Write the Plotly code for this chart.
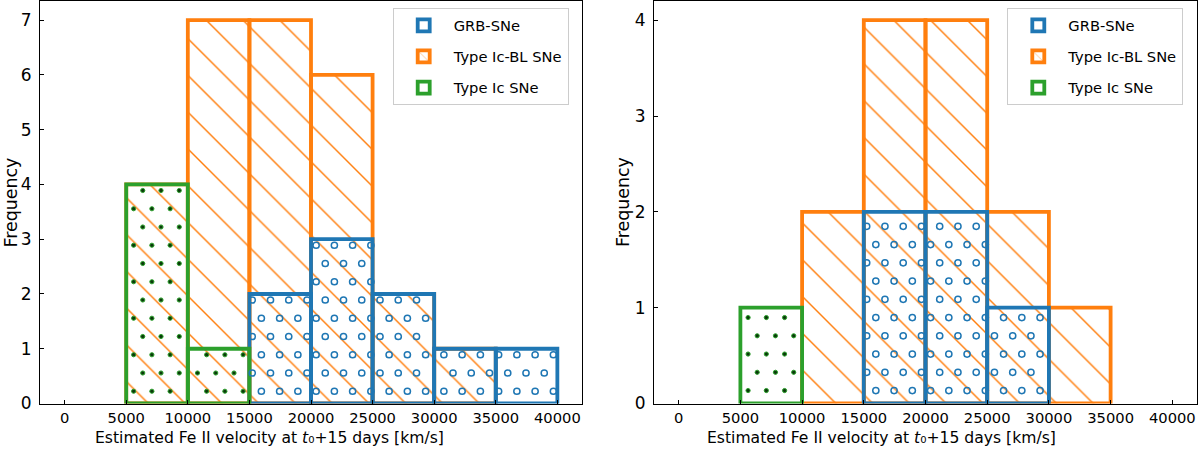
import numpy as np
import plotly.graph_objects as go

# ---------------- data ----------------
bin_edges = [5000, 10000, 15000, 20000, 25000, 30000, 35000, 40000]
series_names = ["GRB-SNe", "Type Ic-BL SNe", "Type Ic SNe"]

left_grb = [0, 0, 2, 3, 2, 1, 1]
left_icbl = [4, 7, 7, 6, 2, 1, 0]
left_ic = [4, 1, 0, 0, 0, 0, 0]

right_grb = [0, 0, 2, 2, 1, 0, 0]
right_icbl = [0, 2, 4, 4, 2, 1, 0]
right_ic = [1, 0, 0, 0, 0, 0, 0]

x_ticks = [0, 5000, 10000, 15000, 20000, 25000, 30000, 35000, 40000]
left_y_ticks = [0, 1, 2, 3, 4, 5, 6, 7]
right_y_ticks = [0, 1, 2, 3, 4]

x_title = "Estimated Fe II velocity at <i>t</i>\u2080+15 days [km/s]"
y_title = "Frequency"

# ---------------- style ----------------
W, H = 1200, 452
BLUE, ORANGE, GREEN = "#1f77b4", "#ff7f0e", "#2ca02c"
FONT = "DejaVu Sans"
FS = 14.7
FS_Y = 17.0
X0, X1 = -2000, 42000
YTOP, YBOT = 1.0, 403.5
P = 18.25  # hatch lattice period in px
LW = 3.8

panels = [
    dict(grb=left_grb, icbl=left_icbl, ic=left_ic, yticks=left_y_ticks,
         xpx=(40.0, 582.0), ymax=7.35, anchor=(380.0, 300.0),
         xa="x", ya="y", legend="legend", xtitle_px=269.0, ytitle_px=11.0),
    dict(grb=right_grb, icbl=right_icbl, ic=right_ic, yticks=right_y_ticks,
         xpx=(654.0, 1197.0), ymax=4.2, anchor=(866.7, 299.3),
         xa="x2", ya="y2", legend="legend2", xtitle_px=881.0, ytitle_px=623.5),
]


def to_px_x(x, xpx):
    return xpx[0] + (x - X0) / (X1 - X0) * (xpx[1] - xpx[0])


def from_px_x(px, xpx):
    return X0 + (px - xpx[0]) / (xpx[1] - xpx[0]) * (X1 - X0)


def to_px_y(y, ymax):
    return YBOT - y / ymax * (YBOT - YTOP)


def from_px_y(py, ymax):
    return (YBOT - py) / (YBOT - YTOP) * ymax


def lattice(counts, xpx, ymax, anchor, margin):
    xs, ys = [], []
    ax, ay = anchor
    for i, c in enumerate(counts):
        if c <= 0:
            continue
        l = to_px_x(bin_edges[i], xpx)
        r = to_px_x(bin_edges[i + 1], xpx)
        t = to_px_y(c, ymax)
        b = YBOT
        jmin = int(np.floor((t - ay) / P)) - 1
        jmax = int(np.ceil((b - ay) / P)) + 1
        for j in range(jmin, jmax + 1):
            py = ay + j * P
            if py < t + margin or py > b - margin:
                continue
            off = ax + (P / 2 if j % 2 else 0.0)
            kmin = int(np.floor((l - off) / P)) - 1
            kmax = int(np.ceil((r - off) / P)) + 1
            for k in range(kmin, kmax + 1):
                px = off + k * P
                if px < l + margin or px > r - margin:
                    continue
                xs.append(from_px_x(px, xpx))
                ys.append(from_px_y(py, ymax))
    return xs, ys


def bars(counts):
    xs, ys = [], []
    for i, c in enumerate(counts):
        if c > 0:
            xs.append((bin_edges[i] + bin_edges[i + 1]) / 2)
            ys.append(c)
    return xs, ys


fig = go.Figure()

for p in panels:
    # Ic-BL (orange, hatched "\\") drawn first
    bx, by = bars(p["icbl"])
    fig.add_trace(go.Bar(
        x=bx, y=by, width=[5000] * len(bx), name=series_names[1],
        legendgroup=series_names[1] + p["legend"], legendrank=2,
        legend=p["legend"], xaxis=p["xa"], yaxis=p["ya"],
        marker=dict(color="rgba(0,0,0,0)", line=dict(color=ORANGE, width=LW),
                    pattern=dict(shape="\\", fgcolor=ORANGE, bgcolor="rgba(0,0,0,0)",
                                 fgopacity=1, size=26, solidity=0.055, fillmode="overlay")),
        hoverinfo="skip"))
    # GRB (blue outline)
    bx, by = bars(p["grb"])
    fig.add_trace(go.Bar(
        x=bx, y=by, width=[5000] * len(bx), name=series_names[0],
        legendgroup=series_names[0] + p["legend"], legendrank=1,
        legend=p["legend"], xaxis=p["xa"], yaxis=p["ya"],
        marker=dict(color="rgba(0,0,0,0)", line=dict(color=BLUE, width=LW)),
        hoverinfo="skip"))
    # Ic (green outline)
    bx, by = bars(p["ic"])
    fig.add_trace(go.Bar(
        x=bx, y=by, width=[5000] * len(bx), name=series_names[2],
        legendgroup=series_names[2] + p["legend"], legendrank=3,
        legend=p["legend"], xaxis=p["xa"], yaxis=p["ya"],
        marker=dict(color="rgba(0,0,0,0)", line=dict(color=GREEN, width=LW)),
        hoverinfo="skip"))
    # circle hatch for GRB
    hx, hy = lattice(p["grb"], p["xpx"], p["ymax"], p["anchor"], 1.0)
    fig.add_trace(go.Scatter(
        x=hx, y=hy, mode="markers", showlegend=False, xaxis=p["xa"], yaxis=p["ya"],
        marker=dict(symbol="circle-open", size=6.2, color=BLUE, line=dict(width=1.5, color=BLUE)),
        hoverinfo="skip"))
    # dot hatch for Ic
    hx, hy = lattice(p["ic"], p["xpx"], p["ymax"], p["anchor"], 1.0)
    fig.add_trace(go.Scatter(
        x=hx, y=hy, mode="markers", showlegend=False, xaxis=p["xa"], yaxis=p["ya"],
        marker=dict(symbol="circle", size=4.2, color="#0b3a0b", line=dict(width=1, color=GREEN)),
        hoverinfo="skip"))

axis_common = dict(showline=True, mirror=True, linecolor="black", linewidth=1,
                   ticks="inside", ticklen=4, tickwidth=1, tickcolor="black",
                   showgrid=False, zeroline=False, automargin=False)

ydom = [(H - YBOT) / H, (H - YTOP) / H]
annotations = []
for idx, p in enumerate(panels):
    sfx = "" if idx == 0 else "2"
    fig.layout["xaxis" + sfx] = dict(
        axis_common, domain=[p["xpx"][0] / W, p["xpx"][1] / W], range=[X0, X1],
        tickvals=x_ticks, ticktext=[str(v) for v in x_ticks], ticklabelstandoff=1,
        tickfont=dict(family=FONT, size=FS, color="black"),
        anchor="y" + sfx)
    fig.layout["yaxis" + sfx] = dict(
        axis_common, domain=ydom, range=[0, p["ymax"]],
        tickvals=p["yticks"], ticktext=[str(v) for v in p["yticks"]], ticklabelstandoff=4,
        tickfont=dict(family=FONT, size=FS_Y, color="black"),
        anchor="x" + sfx)
    annotations.append(dict(
        text=x_title, xref="paper", yref="paper", x=p["xtitle_px"] / W, y=1 - 438.0 / H,
        xanchor="center", yanchor="middle", showarrow=False,
        font=dict(family=FONT, size=15.6, color="black")))
    annotations.append(dict(
        text=y_title, xref="paper", yref="paper", x=p["ytitle_px"] / W, y=1 - 202.5 / H,
        xanchor="center", yanchor="middle", showarrow=False, textangle=-90,
        font=dict(family=FONT, size=17.4, color="black")))

legend_common = dict(bgcolor="rgba(255,255,255,0.8)", bordercolor="#cccccc", borderwidth=1,
                     font=dict(family=FONT, size=FS, color="black"),
                     xanchor="left", yanchor="top", traceorder="grouped", tracegroupgap=9,
                     itemwidth=50, itemclick=False, itemdoubleclick=False)
fig.update_layout(
    width=W, height=H, margin=dict(l=0, r=0, t=0, b=0, autoexpand=False),
    paper_bgcolor="white", plot_bgcolor="white", barmode="overlay",
    font=dict(family=FONT, size=FS, color="black"),
    legend=dict(legend_common, x=392.7 / W, y=1 - 8.3 / H),
    legend2=dict(legend_common, x=1007.3 / W, y=1 - 8.3 / H),
    annotations=annotations,
)

fig.write_html("out.html", config={"displayModeBar": False},
               post_script="document.body.style.margin='0px';")
